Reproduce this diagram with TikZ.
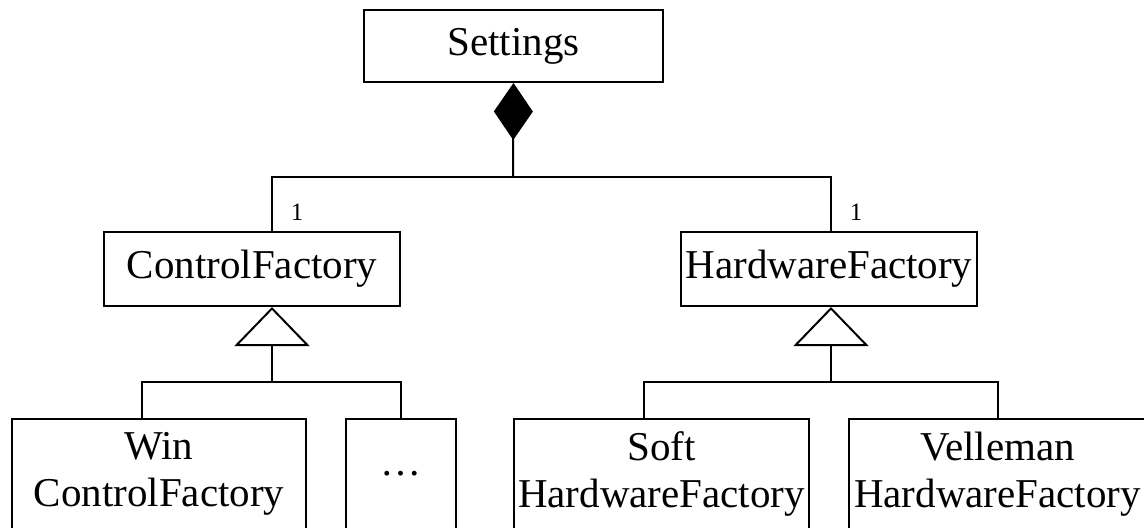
\documentclass[tikz,border=0pt]{standalone}
\usepackage{fontspec}
\setmainfont{Liberation Serif}
\usetikzlibrary{arrows.meta,positioning}
\tikzset{
  cls/.style={
    draw,
    line width=1pt,
    inner sep=0pt,
    align=center,
    font=\fontsize{20.5}{23.5}\selectfont
  },
  sub/.style={
    cls,
    minimum height=55pt
  },
  conn/.style={
    line width=1pt
  },
  compo/.style={
    conn,
    {Diamond[length=28.5pt,width=19.5pt]}-
  },
  gen/.style={
    conn,
    -{Triangle[open,length=19.5pt,width=37.5pt]}
  },
  mult/.style={
    inner sep=0pt,
    font=\fontsize{12.5}{14}\selectfont
  }
}
\begin{document}
\begin{tikzpicture}[x=0.5pt,y=-0.5pt]
  \useasboundingbox (0,0) rectangle (1144,527);
  \clip (0,0) rectangle (1144,527);
  % classes
  \node[cls, minimum width=149.5pt, minimum height=36pt] (settings) at (513.5,46) {Settings};
  \node[cls, minimum width=148pt, minimum height=37pt] (ctrlfac) at (252,269) {ControlFactory};
  \node[cls, minimum width=148pt, minimum height=37pt] (hwfac) at (829,269) {HardwareFactory};
  \node[sub, minimum width=147pt] (winfac) at (159,474) {Win\\ControlFactory};
  \node[sub, minimum width=55pt] (morefac) at (401,474) {\ldots};
  \node[sub, minimum width=147.5pt] (softfac) at (661.5,474) {Soft\\HardwareFactory};
  \node[sub, minimum width=148.5pt] (vellfac) at (997.5,474) {Velleman\\HardwareFactory};
  % junctions
  \coordinate (hub) at (513,177);
  \coordinate (cfaxis) at (272,382);
  \coordinate (hwaxis) at (831,382);
  \coordinate (winx) at (142,0);
  \coordinate (softx) at (644,0);
  % composition
  \draw[compo] (settings.south) -- (hub);
  \draw[conn] (cfaxis |- ctrlfac.north) |- (hub) -| (hwaxis |- hwfac.north);
  \node[mult] (cfmult) at (297,212) {1};
  \node[mult] (hwmult) at (856,212) {1};
  % generalization
  \draw[gen] (cfaxis) -- (cfaxis |- ctrlfac.south);
  \draw[conn] (winx |- winfac.north) |- (cfaxis) -| (morefac.north);
  \draw[gen] (hwaxis) -- (hwaxis |- hwfac.south);
  \draw[conn] (softx |- softfac.north) |- (hwaxis) -| (vellfac.north);
\end{tikzpicture}
\end{document}
